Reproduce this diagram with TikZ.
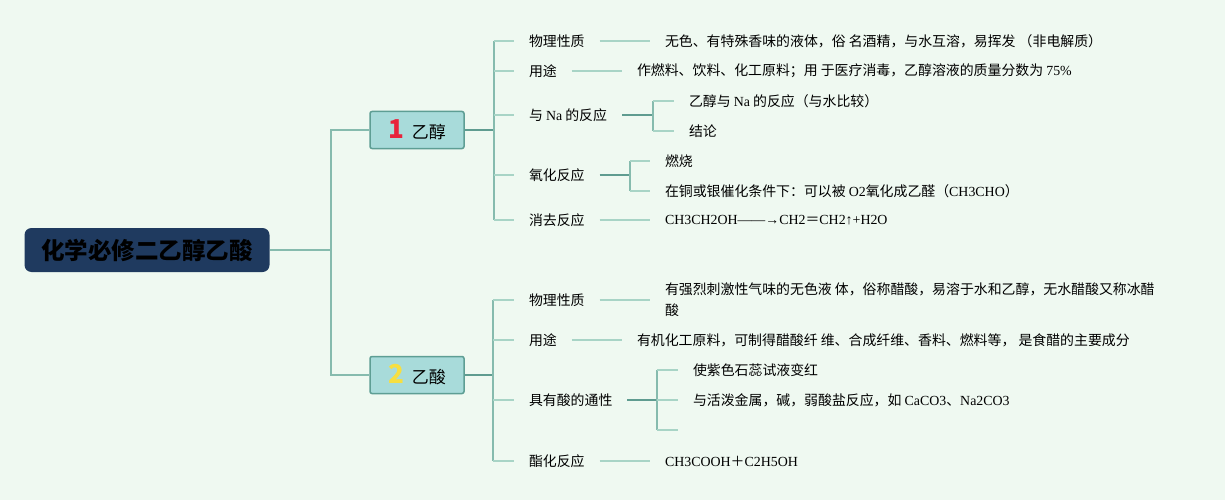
\documentclass[tikz,border=0pt]{standalone}
\usepackage{fontspec}
\setmainfont{Noto Sans CJK SC}
\newfontfamily\lat{Liberation Serif}
\usepackage{tikz}
\usetikzlibrary{calc}
\definecolor{bgc}{HTML}{EFF9F1}
\definecolor{navy}{HTML}{1F3A5F}
\definecolor{topicfill}{HTML}{A8DBDA}
\definecolor{topicdraw}{HTML}{5E9E94}
\definecolor{stemc}{HTML}{5F9C90}
\definecolor{vertc}{HTML}{86BBAE}
\definecolor{tickc}{HTML}{A8D4C6}
\definecolor{numred}{HTML}{E8243C}
\definecolor{numyellow}{HTML}{F7DF40}
\tikzstyle{root} = [rectangle, rounded corners=7pt, fill=navy, minimum width=245pt, minimum height=44pt, text centered, font=\fontsize{23.5}{26}\selectfont\bfseries]
\tikzstyle{topic} = [rectangle, rounded corners=2pt, fill=topicfill, draw=topicdraw, line width=1.5pt, minimum width=94pt, minimum height=37pt, font=\fontsize{17}{20}\selectfont]
\tikzstyle{item} = [inner sep=0pt, outer xsep=15pt, anchor=west, font=\fontsize{13.9}{21}\selectfont, align=left]
\tikzstyle{trunk} = [line width=1.8pt, vertc]
\tikzstyle{stem} = [line width=2pt, stemc]
\tikzstyle{vert} = [line width=1.8pt, vertc]
\tikzstyle{tick} = [line width=1.5pt, tickc]
\newcommand{\num}[2]{{\color{#1}\fontsize{26}{26}\selectfont\bfseries #2}\hspace{8pt}}

\begin{document}
\begin{tikzpicture}[x=1pt, y=-1pt]
\useasboundingbox (0,0) rectangle (1225,500);
\fill [bgc] (0,0) rectangle (1225,500);

\node (root) [root] at (147,250) {化学必修二乙醇乙酸};
\coordinate (tr) at (331,250);
\node (n1) [topic] at (417,130) {\num{numred}{1}乙醇};
\node (n2) [topic] at (417,375) {\num{numyellow}{2}乙酸};
\draw [trunk] (root.east) -- (tr) |- (n1.west);
\draw [trunk] (tr) |- (n2.west);

% 乙醇
\coordinate (b1) at (494,130);
\node (c11) [item] at (514,41) {物理性质};
\node (c12) [item] at (514,71) {用途};
\node (c13) [item] at (514,115) {与 {\lat Na} 的反应};
\node (c14) [item] at (514,175) {氧化反应};
\node (c15) [item] at (514,220) {消去反应};
\node (l11) [item] at (650,41) {无色、有特殊香味的液体，俗 名酒精，与水互溶，易挥发 （非电解质）};
\node (l12) [item] at (622,71) {作燃料、饮料、化工原料；用 于医疗消毒，乙醇溶液的质量分数为 {\lat 75\%}};
\coordinate (k13) at (653,115);
\node (l131) [item] at (674,101) {乙醇与 {\lat Na} 的反应（与水比较）};
\node (l132) [item] at (674,131) {结论};
\coordinate (k14) at (630,175);
\node (l141) [item] at (650,161) {燃烧};
\node (l142) [item] at (650,191) {在铜或银催化条件下：可以被 {\lat O2}氧化成乙醛（{\lat CH3CHO}）};
\node (l15) [item] at (650,220) {{\lat CH3CH2OH——→CH2}＝{\lat CH2↑+H2O}};

\draw [stem] (n1.east) -- (b1);
\draw [vert] (b1 |- c11.west) -- (b1 |- c15.west);
\foreach \c in {c11,c12,c13,c14,c15}
  \draw [tick] (b1 |- \c.west) -- (\c.west);
\draw [tick] (c11.east) -- (l11.west);
\draw [tick] (c12.east) -- (l12.west);
\draw [stem] (c13.east) -- (k13);
\draw [vert] (k13 |- l131.west) -- (k13 |- l132.west);
\foreach \l in {l131,l132}
  \draw [tick] (k13 |- \l.west) -- (\l.west);
\draw [stem] (c14.east) -- (k14);
\draw [vert] (k14 |- l141.west) -- (k14 |- l142.west);
\foreach \l in {l141,l142}
  \draw [tick] (k14 |- \l.west) -- (\l.west);
\draw [tick] (c15.east) -- (l15.west);

% 乙酸
\coordinate (b2) at (493,375);
\node (c21) [item] at (514,300) {物理性质};
\node (c22) [item] at (514,340) {用途};
\node (c23) [item] at (514,400) {具有酸的通性};
\node (c24) [item] at (514,461) {酯化反应};
\node (l21) [item] at (650,300) {有强烈刺激性气味的无色液 体，俗称醋酸，易溶于水和乙醇，无水醋酸又称冰醋\\酸};
\node (l22) [item] at (622,340) {有机化工原料，可制得醋酸纤 维、合成纤维、香料、燃料等， 是食醋的主要成分};
\coordinate (k23) at (657,400);
\node (l231) [item] at (678,370) {使紫色石蕊试液变红};
\node (l232) [item] at (678,400) {与活泼金属，碱，弱酸盐反应，如 {\lat CaCO3}、{\lat Na2CO3}};
\coordinate (l233) at (678,430); % 空分支
\node (l24) [item] at (650,461) {{\lat CH3COOH}＋{\lat C2H5OH}};

\draw [stem] (n2.east) -- (b2);
\draw [vert] (b2 |- c21.west) -- (b2 |- c24.west);
\foreach \c in {c21,c22,c23,c24}
  \draw [tick] (b2 |- \c.west) -- (\c.west);
\draw [tick] (c21.east) -- (l21.west);
\draw [tick] (c22.east) -- (l22.west);
\draw [stem] (c23.east) -- (k23);
\draw [vert] (k23 |- l231.west) -- (k23 |- l233);
\draw [tick] (k23 |- l231.west) -- (l231.west);
\draw [tick] (k23 |- l232.west) -- (l232.west);
\draw [tick] (k23 |- l233) -- (l233);
\draw [tick] (c24.east) -- (l24.west);
\end{tikzpicture}
\end{document}
